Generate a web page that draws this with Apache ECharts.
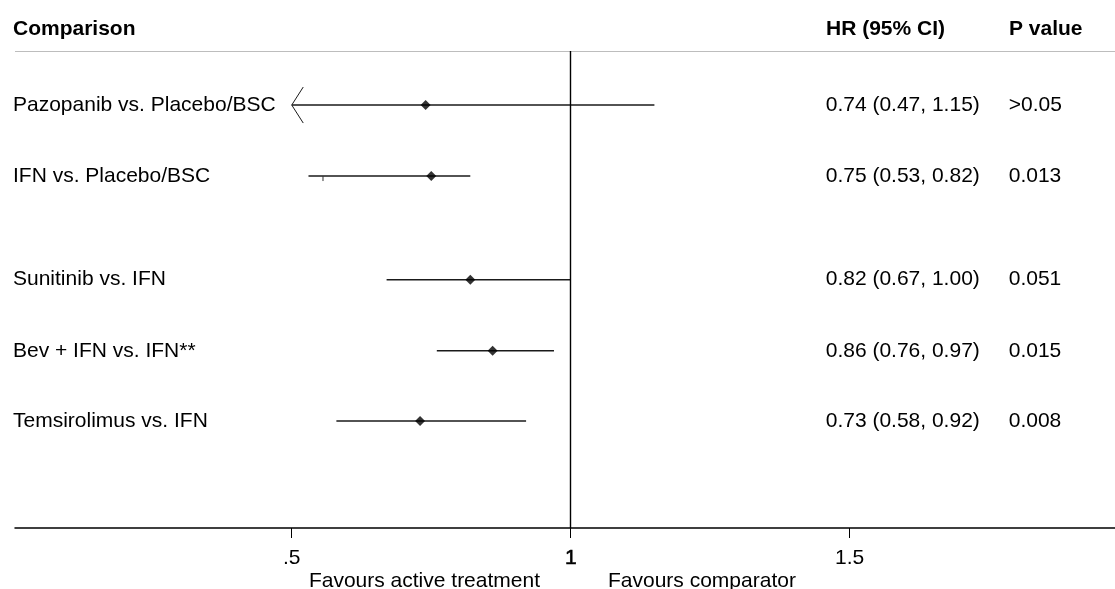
<!DOCTYPE html>
<html>
<head>
<meta charset="utf-8">
<script src="https://cdn.jsdelivr.net/npm/echarts@6/dist/echarts.min.js"></script>
<style>
html,body{margin:0;padding:0;background:#fff;}
#chart{width:1115px;height:589px;}
</style>
</head>
<body>
<div id="chart"></div>
<script>
// ---- data ----
const comparisons = ['Pazopanib vs. Placebo/BSC', 'IFN vs. Placebo/BSC', 'Sunitinib vs. IFN', 'Bev + IFN vs. IFN**', 'Temsirolimus vs. IFN'];
const hrValues = [0.74, 0.75, 0.82, 0.86, 0.73];
const ciLower = [0.47, 0.53, 0.67, 0.76, 0.58];
const ciUpper = [1.15, 0.82, 1.00, 0.97, 0.92];
const pValues = ['>0.05', '0.013', '0.051', '0.015', '0.008'];
const rowPos = [1, 2, 3.46, 4.46, 5.45];
const tickValues = [0.5, 1, 1.5];
const tickLabels = ['.5', '1', '1.5'];
const clipMin = 0.5;
const ifnMarkX = [0.556];
const headers = ['Comparison', 'HR (95% CI)', 'P value'];
const favours = ['Favours active treatment', 'Favours comparator'];

// ---- layout ----
const FONT = '"Liberation Sans", Arial, sans-serif';
const FS = 21;
const labelColX = 0.004, hrColX = 1.457, pColX = 1.785;

const chart = echarts.init(document.getElementById('chart'), null, {renderer: 'canvas'});

const fmt = v => v.toFixed(2);
const hrText = hrValues.map((v, i) => `${fmt(v)} (${fmt(ciLower[i])}, ${fmt(ciUpper[i])})`);

const textSeries = (xVal, texts, dx) => ({
  type: 'custom',
  silent: true,
  clip: false,
  data: texts.map((t, i) => [xVal, rowPos[i]]),
  renderItem: (params, api) => {
    const p = api.coord([api.value(0), api.value(1)]);
    return {
      type: 'text',
      x: p[0] + (dx || 0), y: p[1],
      style: {text: texts[params.dataIndex], font: `${FS}px ${FONT}`, fill: '#000', align: 'left', verticalAlign: 'middle'}
    };
  },
  z: 5
});

const option = {
  backgroundColor: '#fff',
  animation: false,
  grid: {left: 15, right: 0, top: 51, bottom: 61, containLabel: false},
  xAxis: {
    type: 'value', min: 0.004, max: 1.9755,
    axisLine: {show: true, lineStyle: {color: '#000', width: 1.5}},
    axisTick: {show: true, length: 10, customValues: tickValues, lineStyle: {color: '#000', width: 1}},
    axisLabel: {
      show: true, customValues: tickValues, margin: 20,
      formatter: v => {
        const i = tickValues.findIndex(t => Math.abs(t - v) < 1e-9);
        return i === 1 ? '{b|' + tickLabels[i] + '}' : tickLabels[i];
      },
      color: '#000', fontFamily: FONT, fontSize: FS,
      rich: {b: {fontFamily: FONT, fontSize: FS, color: '#000', textBorderColor: '#000', textBorderWidth: 0.6}}
    },
    splitLine: {show: false}
  },
  yAxis: {
    type: 'value', inverse: true, min: 0.239, max: 6.957,
    show: false
  },
  graphic: [
    {type: 'line', shape: {x1: 15, y1: 51.5, x2: 1115, y2: 51.5}, style: {stroke: '#bdbdbd', lineWidth: 1}, z: 1},
    {type: 'text', x: 13, y: 29, style: {text: headers[0], font: `bold ${FS}px ${FONT}`, fill: '#000', verticalAlign: 'middle'}},
    {type: 'text', x: 826, y: 29, style: {text: headers[1], font: `bold ${FS}px ${FONT}`, fill: '#000', verticalAlign: 'middle'}},
    {type: 'text', x: 1009, y: 29, style: {text: headers[2], font: `bold ${FS}px ${FONT}`, fill: '#000', verticalAlign: 'middle'}},
    {type: 'text', x: 540, y: 581, style: {text: favours[0], font: `${FS}px ${FONT}`, fill: '#000', align: 'right', verticalAlign: 'middle'}},
    {type: 'text', x: 608, y: 581, style: {text: favours[1], font: `${FS}px ${FONT}`, fill: '#000', align: 'left', verticalAlign: 'middle'}}
  ],
  series: [
    {
      type: 'custom',
      silent: true,
      data: comparisons.map((c, i) => [ciLower[i], ciUpper[i], rowPos[i]]),
      renderItem: (params, api) => {
        const lo = api.value(0), hi = api.value(1), y = api.value(2);
        const a = api.coord([Math.max(lo, clipMin), y]);
        const b = api.coord([hi, y]);
        const children = [{
          type: 'line',
          shape: {x1: a[0], y1: a[1], x2: b[0], y2: b[1]},
          style: {stroke: '#1a1a1a', lineWidth: 1.4}
        }];
        if (lo < clipMin) {
          children.push({
            type: 'polyline',
            shape: {points: [[a[0] + 11.5, a[1] - 18], [a[0], a[1]], [a[0] + 11.5, a[1] + 18]]},
            style: {stroke: '#1a1a1a', fill: null, lineWidth: 1}
          });
        }
        return {type: 'group', children};
      },
      markLine: {
        silent: true, symbol: 'none', label: {show: false},
        lineStyle: {color: '#000', width: 1.4, type: 'solid'},
        data: [{xAxis: 1}]
      },
      z: 3
    },
    {
      type: 'custom',
      silent: true,
      data: ifnMarkX.map(x => [x, rowPos[1]]),
      renderItem: (params, api) => {
        const p = api.coord([api.value(0), api.value(1)]);
        return {type: 'line', shape: {x1: p[0], y1: p[1], x2: p[0], y2: p[1] + 5}, style: {stroke: '#333', lineWidth: 1}};
      },
      z: 3
    },
    {
      type: 'scatter',
      symbol: 'diamond',
      symbolSize: 10,
      silent: true,
      itemStyle: {color: '#000'},
      data: hrValues.map((v, i) => [v, rowPos[i]]),
      z: 4
    },
    textSeries(labelColX, comparisons, -2),
    textSeries(hrColX, hrText, 0),
    textSeries(pColX, pValues, 0)
  ]
};

chart.setOption(option);
</script>
</body>
</html>
